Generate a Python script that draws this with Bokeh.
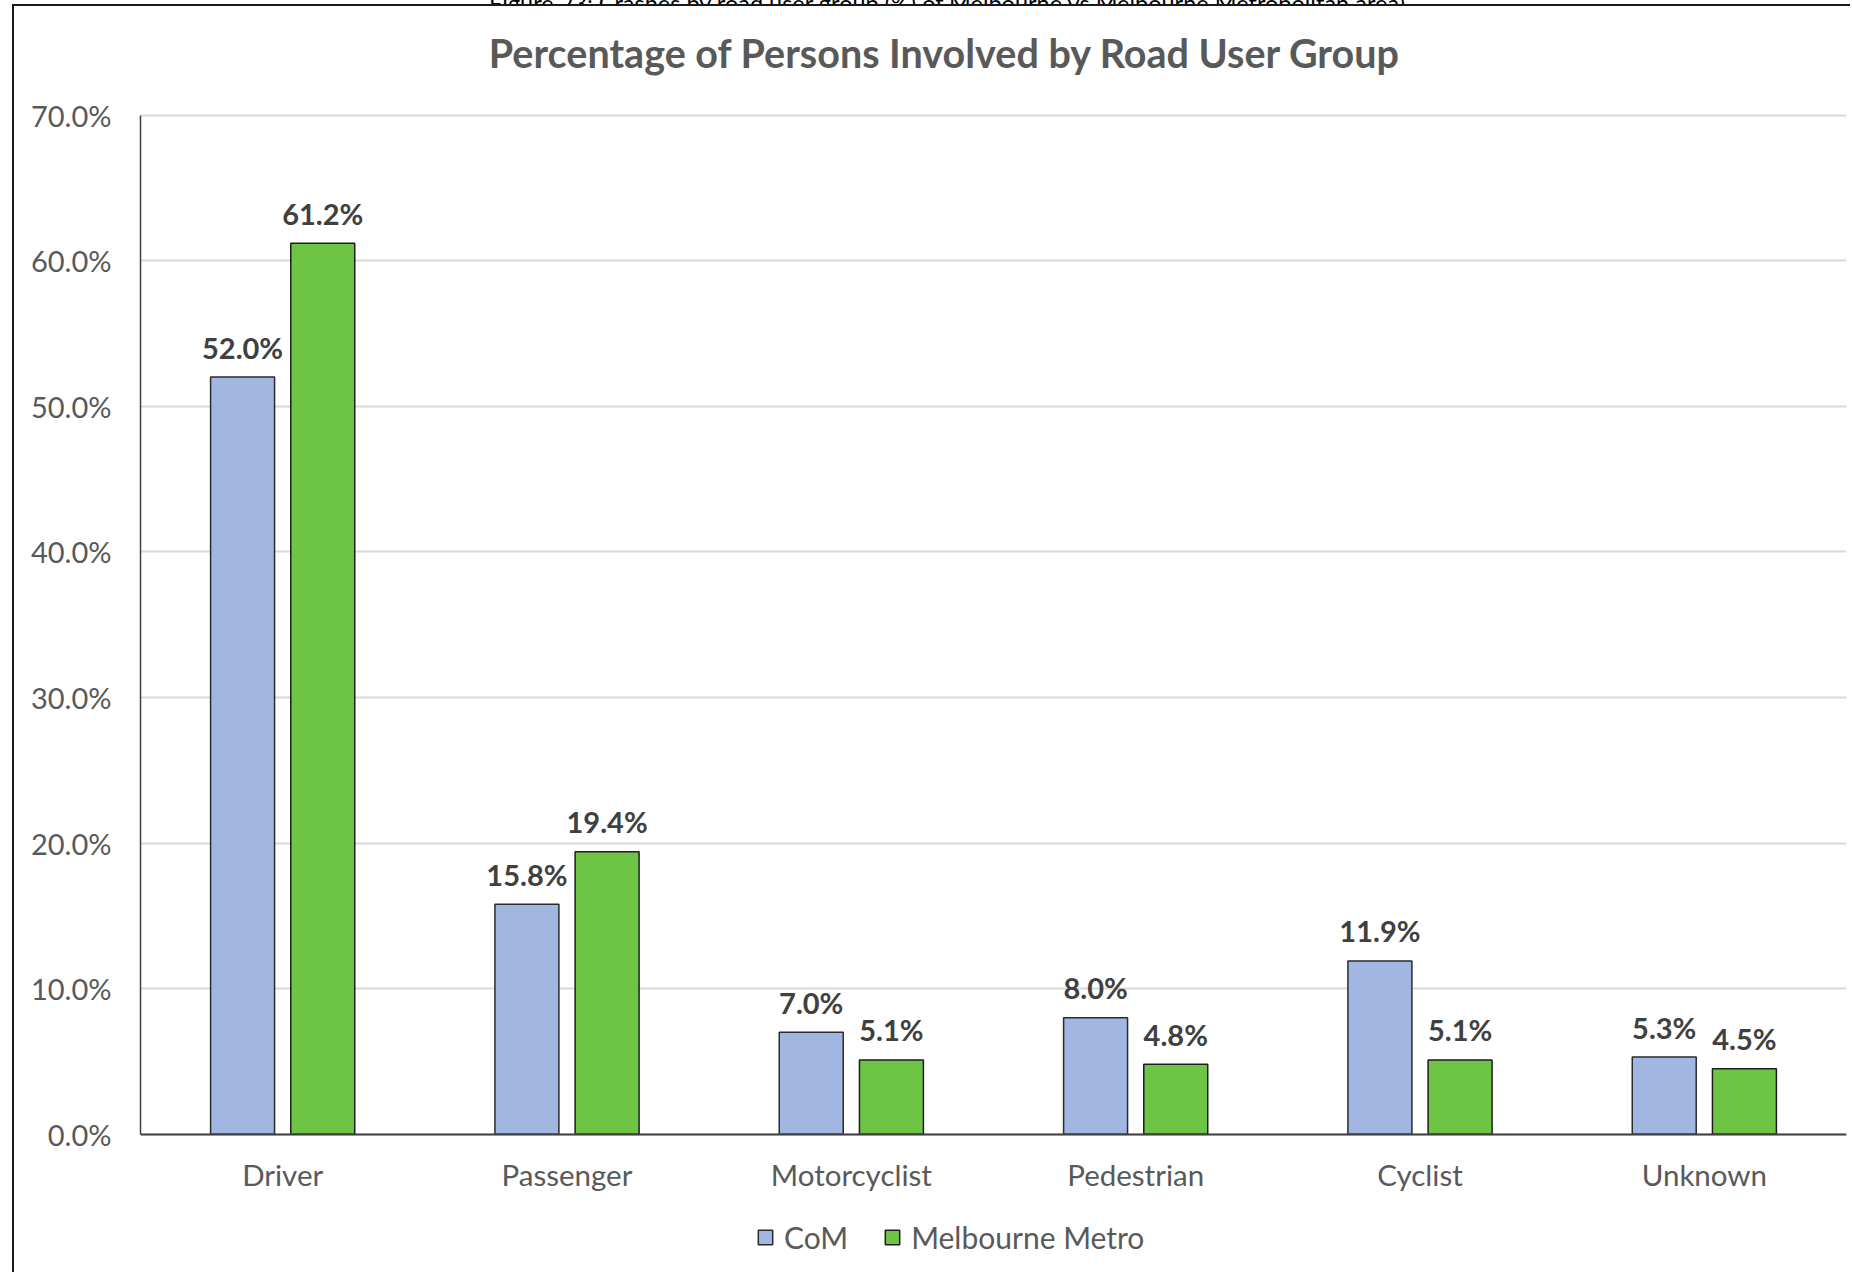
from bokeh.plotting import figure
from bokeh.models import (FactorRange, Range1d, FixedTicker, PrintfTickFormatter,
                          ColumnDataSource, Legend, LegendItem, Div, Label)
from bokeh.transform import dodge
from bokeh.layouts import column
from bokeh.core.properties import value
from bokeh.embed import file_html
from bokeh.resources import INLINE

# Road user groups and the share of persons involved (%)
groups = ["Driver", "Passenger", "Motorcyclist", "Pedestrian", "Cyclist", "Unknown"]
com = [52.0, 15.8, 7.0, 8.0, 11.9, 5.3]
metro = [61.2, 19.4, 5.1, 4.8, 5.1, 4.5]
series_names = ["CoM", "Melbourne Metro"]
y_ticks = [0, 10, 20, 30, 40, 50, 60, 70]

chart_title = "Percentage of Persons Involved by Road User Group"
caption = "Figure 23: Crashes by road user group (%) of Melbourne vs Melbourne Metropolitan area)"

FONT = "Lato"
TEXT_GREY = "#595959"
LABEL_DARK = "#404040"
BLUE = "#A1B6E0"
GREEN = "#6EC445"

source = ColumnDataSource(data=dict(
    group=groups,
    com=com,
    metro=metro,
    com_lbl=[f"{v:.1f}%" for v in com],
    metro_lbl=[f"{v:.1f}%" for v in metro],
))

# The frame fills the canvas vertically: the title, the category axis and the
# legend all sit inside it, while the value axis only spans 0..70.
CANVAS_H = 1268
TOP = 108.5                  # space above the 70% gridline
PX_PER_UNIT = 145.6 / 10
y_high = 70 + TOP / PX_PER_UNIT
y_low = -(CANVAS_H - TOP - 70 * PX_PER_UNIT) / PX_PER_UNIT

p = figure(
    x_range=FactorRange(*groups, range_padding=0),
    y_range=Range1d(y_low, y_high),
    width=1838, height=CANVAS_H,
    output_backend="svg", toolbar_location=None,
    min_border_left=126, min_border_right=6,
    min_border_top=0, min_border_bottom=0,
    margin=(0, 0, 0, 12),
    styles={"border-left": "2px solid #1a1a1a", "border-top": "2px solid #1a1a1a"},
)

off = 0.141
bw = 0.225
r_com = p.vbar(x=dodge("group", -off, range=p.x_range), top="com", width=bw,
               source=source, fill_color=BLUE, line_color="#2b2b2b", line_width=1.5)
r_metro = p.vbar(x=dodge("group", off, range=p.x_range), top="metro", width=bw,
                 source=source, fill_color=GREEN, line_color="#1e1e1e", line_width=1.5)

# value labels above each bar
for col, lbl, dx in (("com", "com_lbl", -off), ("metro", "metro_lbl", off)):
    p.text(x=dodge("group", dx, range=p.x_range), y=col, text=lbl, source=source,
           text_align="center", text_baseline="middle", y_offset=-30,
           text_font=value(FONT), text_font_size="29px",
           text_font_style="bold", text_color=LABEL_DARK)

# chart title, centred on the chart area
p.add_layout(Label(
    x=2.83, y=70 + 62.5 / PX_PER_UNIT, text=chart_title,
    text_align="center", text_baseline="middle",
    text_font=FONT, text_font_size="39.5px", text_font_style="bold",
    text_color=TEXT_GREY,
))

# axes
p.yaxis.ticker = FixedTicker(ticks=y_ticks)
p.yaxis.formatter = PrintfTickFormatter(format="%.1f%%")
p.yaxis.bounds = (0, 70)
p.xaxis.fixed_location = 0
for ax in (p.xaxis[0], p.yaxis[0]):
    ax.major_tick_line_color = None
    ax.minor_tick_line_color = None
    ax.major_label_text_font = FONT
    ax.major_label_text_color = TEXT_GREY
p.yaxis.major_label_text_font_size = "29px"
p.xaxis.major_label_text_font_size = "29.5px"
p.yaxis.axis_line_color = "#404040"
p.yaxis.axis_line_width = 1.5
p.yaxis.major_label_standoff = 23
p.xaxis.axis_line_color = "#404040"
p.xaxis.axis_line_width = 2
p.xaxis.major_label_standoff = 17

p.xgrid.grid_line_color = None
p.ygrid.grid_line_color = "#D9D9D9"
p.ygrid.grid_line_width = 2
p.outline_line_color = None

# legend under the category labels, placed from the frame's bottom-left
legend = Legend(
    items=[LegendItem(label=series_names[0], renderers=[r_com]),
           LegendItem(label=series_names[1], renderers=[r_metro])],
    orientation="horizontal", location=(616, 19),
    border_line_color=None, background_fill_alpha=0,
    label_text_font=FONT, label_text_font_size="30px", label_text_color=TEXT_GREY,
    glyph_width=18, glyph_height=18, spacing=35, label_standoff=10, padding=10,
)
p.add_layout(legend, "center")

cap = Div(
    text=(f'<div style="font-family:{FONT};font-size:23.5px;line-height:26px;'
          f'margin-top:-20px;padding-left:489px;color:#000;'
          f'white-space:nowrap">{caption}</div>'),
    width=1852, height=4, margin=0, styles={"overflow": "hidden"},
)

layout = column(cap, p)
open("out.html", "w").write(file_html(layout, INLINE))
